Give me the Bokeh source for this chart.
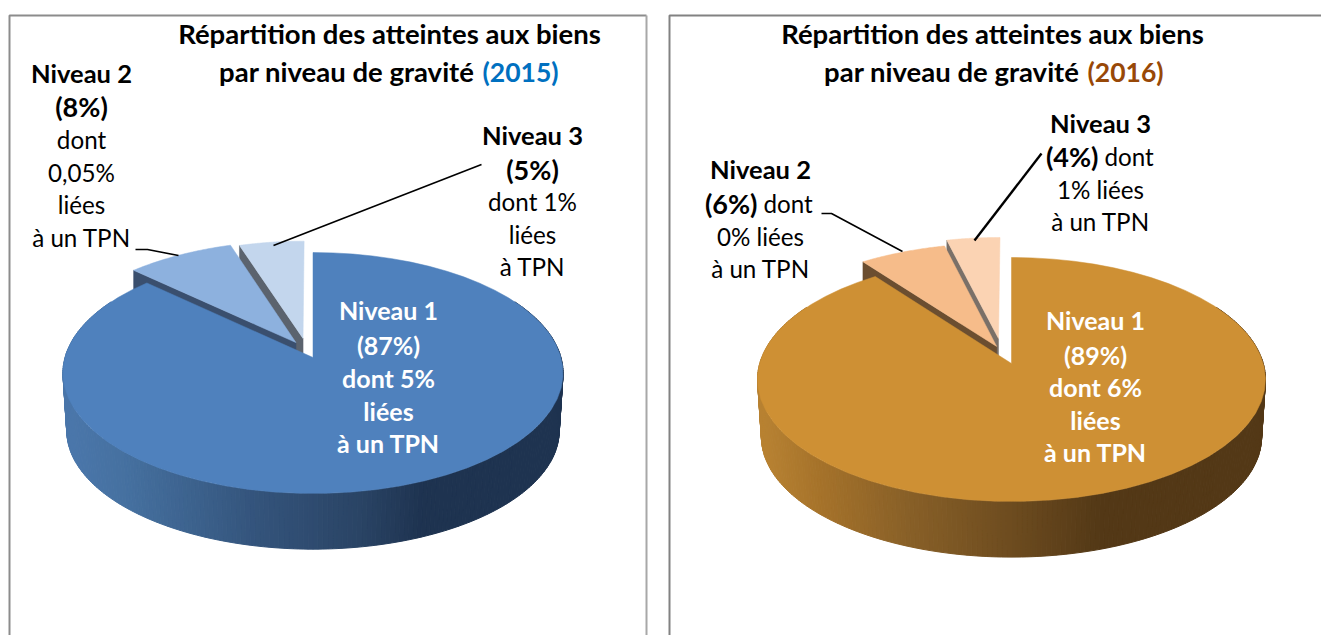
import math
from bokeh.plotting import figure
from bokeh.models import Range1d, ColumnDataSource
from bokeh.core.properties import value
from bokeh.embed import file_html
from bokeh.resources import INLINE

# ---- data ----
categories = ["Niveau 1", "Niveau 2", "Niveau 3"]
shares_2015 = [87.0, 8.0, 5.0]
shares_2016 = [89.8, 6.3, 3.9]
title_line1 = "Répartition des atteintes aux biens"
title_line2 = "par niveau de gravité"
year_2015 = "(2015)"
year_2016 = "(2016)"

FONT = "Lato"
TITLE_SIZE = "27.5px"
YEAR_SIZE = "26.5px"
LABEL_SIZE = "25.5px"
PCT_SIZE = "27px"
REGULAR_SIZE = "24.2px"
WHITE_SIZE = "25px"
TEXT_DY = -2

# ---- layout / styles ----
pie_2015 = dict(cx=312.5, cy=357, A=248, B=118.5, k=0.1286, thick=58, low=0.985,
                explode=[None, (-0.07, 0.128, 1.0), (-0.041, 0.164, 0.96)],
                tops=["#4f81bd", "#8db1de", "#c3d6ed"],
                faces=[None, "#3a4f6e", "#5b636e"],
                wall=[(70, (74, 118, 170)), (127, (69, 112, 159)), (253, (52, 84, 124)),
                      (359, (42, 68, 101)), (422, (30, 51, 80)), (570, (30, 51, 80))])
pie_2016 = dict(cx=1011, cy=363, A=251.8, B=119.9, k=0.131, thick=58, low=0.985,
                explode=[None, (-0.06, 0.145, 1.01), (-0.053, 0.214, 1.005)],
                tops=["#ce9034", "#f6bc8a", "#fbd3b3"],
                faces=[None, "#6b4e30", "#7a7068"],
                wall=[(760, (184, 130, 50)), (820, (165, 114, 42)), (900, (138, 97, 40)),
                      (1000, (112, 78, 32)), (1100, (83, 56, 22)), (1270, (83, 56, 22))])


def project(pie, u, v):
    w = 1 + pie["k"] * v
    return pie["cx"] + pie["A"] * u / w, pie["cy"] - pie["B"] * v / w


def wall_colour(pie, x):
    stops = pie["wall"]
    if x <= stops[0][0]:
        c = stops[0][1]
    elif x >= stops[-1][0]:
        c = stops[-1][1]
    else:
        for (x0, c0), (x1, c1) in zip(stops, stops[1:]):
            if x0 <= x <= x1:
                t = (x - x0) / (x1 - x0)
                c = tuple(c0[i] + (c1[i] - c0[i]) * t for i in range(3))
                break
    return "#%02x%02x%02x" % tuple(int(round(q)) for q in c)


def draw_pie(p, pie, shares):
    total = sum(shares)
    angles = [0.0]
    for s in shares:
        angles.append(angles[-1] + 2 * math.pi * s / total)

    # outer wall of the main slice
    xs, ys, cols = [], [], []
    lo, hi = math.radians(60), min(angles[1], math.radians(300))
    n = 240
    for i in range(n):
        a0 = lo + (hi - lo) * i / n
        a1 = lo + (hi - lo) * (i + 1) / n
        t0 = project(pie, math.sin(a0), math.cos(a0))
        t1 = project(pie, math.sin(a1), math.cos(a1))
        s = pie["low"]
        b0 = project(pie, s * math.sin(a0), s * math.cos(a0))
        b1 = project(pie, s * math.sin(a1), s * math.cos(a1))
        xs.append([t0[0], t1[0], b1[0], b0[0]])
        ys.append([t0[1], t1[1], b1[1] + pie["thick"], b0[1] + pie["thick"]])
        cols.append(wall_colour(pie, (t0[0] + t1[0]) / 2))
    src = ColumnDataSource(dict(xs=xs, ys=ys, c=cols))
    p.patches("xs", "ys", source=src, fill_color="c", line_color="c", line_width=1)

    def sector(i):
        ex = pie["explode"][i]
        u0, v0, r = ex if ex else (0.0, 0.0, 1.0)
        pts = [project(pie, u0, v0)]
        m = 60
        for j in range(m + 1):
            a = angles[i] + (angles[i + 1] - angles[i]) * j / m
            pts.append(project(pie, u0 + r * math.sin(a), v0 + r * math.cos(a)))
        return pts

    # cut faces of the exploded slices, back to front
    for i in (2, 1):
        pts = sector(i)
        apex, corner = pts[0], pts[1]
        t = pie["thick"]
        p.patch([apex[0], corner[0], corner[0], apex[0]],
                [apex[1], corner[1], corner[1] + t, apex[1] + t],
                fill_color=pie["faces"][i], line_color=pie["faces"][i], line_width=0.5)
    # top faces
    for i in (1, 2, 0):
        pts = sector(i)
        p.patch([q[0] for q in pts], [q[1] for q in pts],
                fill_color=pie["tops"][i], line_color=pie["tops"][i], line_width=0.5)


def txt(p, x, y, s, bold=False, color="#000000", size=None, align="center"):
    if size is None:
        size = LABEL_SIZE if bold else REGULAR_SIZE
    p.text([x], [y + TEXT_DY], text=[s], text_font=value(FONT), text_font_size=value(size),
           text_font_style="bold" if bold else "normal", text_color=color,
           text_align=align, text_baseline="middle")


p = figure(width=1321, height=635, output_backend="svg", toolbar_location=None,
           x_range=Range1d(0, 1321), y_range=Range1d(635, 0), min_border=0)
p.axis.visible = False
p.grid.visible = False
p.outline_line_color = None
p.background_fill_color = "#ffffff"
p.border_fill_color = "#ffffff"

# panel frames
p.line([9, 9, 646], [635, 15, 15], line_color="#8c8c8c", line_width=2)
p.line([646, 646], [15, 635], line_color="#a8a8a8", line_width=2)
p.line([669, 669, 1321], [635, 15, 15], line_color="#828282", line_width=2)

draw_pie(p, pie_2015, shares_2015)
draw_pie(p, pie_2016, shares_2016)

# leader lines
p.line([135, 147, 178], [249, 249, 255], line_color="#000000", line_width=1.6)
p.line([481, 273], [164, 245], line_color="#000000", line_width=1.6)
p.line([821, 831, 902], [213, 213, 251], line_color="#000000", line_width=1.6)
p.line([1041, 974], [153, 240], line_color="#000000", line_width=2.4)

# titles
txt(p, 389, 35, title_line1, True, size=TITLE_SIZE)
txt(p, 474, 73, title_line2, True, size=TITLE_SIZE, align="right")
txt(p, 482, 73, year_2015, True, color="#0070c0", size=YEAR_SIZE, align="left")
txt(p, 992, 35, title_line1, True, size=TITLE_SIZE)
txt(p, 1079, 73, title_line2, True, size=TITLE_SIZE, align="right")
txt(p, 1087, 73, year_2016, True, color="#984807", size=YEAR_SIZE, align="left")

# 2015 labels
txt(p, 81, 74, categories[1], True)
txt(p, 81, 108, "(8%)", True, size=PCT_SIZE)
for y, s in [(141, "dont"), (174, "0,05%"), (206, "liées"), (239, "à un TPN")]:
    txt(p, 81, y, s)
txt(p, 532, 136, categories[2], True)
txt(p, 532, 171, "(5%)", True, size=PCT_SIZE)
for y, s in [(203, "dont 1%"), (236, "liées"), (268, "à TPN")]:
    txt(p, 532, y, s)
for y, s in [(311, categories[0]), (346, "(87%)"), (379, "dont 5%"), (412, "liées"), (444, "à un TPN")]:
    txt(p, 388, y, s, True, "#ffffff", size=WHITE_SIZE)

# 2016 labels
txt(p, 760, 170, categories[1], True)
txt(p, 757, 205, "(6%)", True, size=PCT_SIZE, align="right")
txt(p, 763, 205, "dont", False, align="left")
txt(p, 760, 238, "0% liées")
txt(p, 760, 270, "à un TPN")
txt(p, 1100, 124, categories[2], True)
txt(p, 1098, 158, "(4%)", True, size=PCT_SIZE, align="right")
txt(p, 1104, 158, "dont", False, align="left")
txt(p, 1100, 191, "1% liées")
txt(p, 1100, 223, "à un TPN")
for y, s in [(321, categories[0]), (356, "(89%)"), (388, "dont 6%"), (421, "liées"), (453, "à un TPN")]:
    txt(p, 1095, y, s, True, "#ffffff", size=WHITE_SIZE)

open("out.html", "w").write(file_html(p, INLINE))
